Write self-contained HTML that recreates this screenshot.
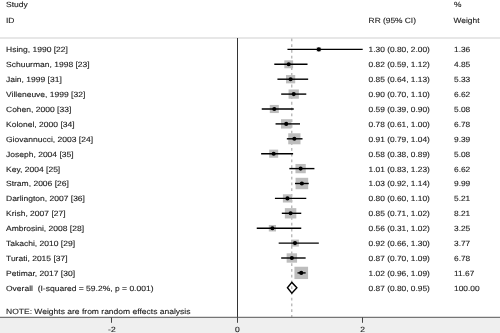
<!DOCTYPE html>
<html><head><meta charset="utf-8"><style>
html,body{margin:0;padding:0;background:#fff;}
svg{display:block;filter:grayscale(1);}
text{font-family:"Liberation Sans",sans-serif;font-size:7.6px;fill:#222;white-space:pre;text-rendering:geometricPrecision;stroke:#222;stroke-width:0.12px;}
</style></head><body>
<svg width="500" height="333" viewBox="0 0 500 333">
<rect width="500" height="333" fill="#fff"/>
<rect x="0" y="317.3" width="500" height="15.699999999999989" fill="#efefef"/>
<line x1="0" x2="500" y1="38" y2="38" stroke="#cfcfcf" stroke-width="1"/>
<line x1="237.5" x2="237.5" y1="38" y2="317.3" stroke="#333" stroke-width="1"/>
<line x1="291.8" x2="291.8" y1="38.5" y2="317.3" stroke="#a5a5a5" stroke-width="1.1" stroke-dasharray="2.8 2.96"/>
<text transform="translate(6.00,7.40) scale(1.12,1)" text-anchor="start">Study</text>
<text transform="translate(6.00,22.80) scale(1.12,1)" text-anchor="start">ID</text>
<text transform="translate(368.60,22.80) scale(1.1,1)" text-anchor="start">RR (95% CI)</text>
<text transform="translate(454.00,7.40) scale(1.1,1)" text-anchor="start">%</text>
<text transform="translate(453.60,22.80) scale(1.1,1)" text-anchor="start">Weight</text>
<rect x="316.48" y="47.30" width="4.66" height="4.20" fill="#bdbdbd"/>
<line x1="287.46" x2="362.70" y1="49.40" y2="49.40" stroke="#000" stroke-width="1.4"/>
<circle cx="318.81" cy="49.40" r="2.05" fill="#000"/>
<text transform="translate(6.00,52.30) scale(1.12,1)" text-anchor="start">Hsing, 1990 [22]</text>
<text transform="translate(368.60,52.30) scale(1.1,1)" text-anchor="start">1.30 (0.80, 2.00)</text>
<text transform="translate(454.00,52.30) scale(1.1,1)" text-anchor="start">1.36</text>
<rect x="284.31" y="60.34" width="8.81" height="7.93" fill="#bdbdbd"/>
<line x1="274.29" x2="307.52" y1="64.30" y2="64.30" stroke="#000" stroke-width="1.4"/>
<circle cx="288.71" cy="64.30" r="2.05" fill="#000"/>
<text transform="translate(6.00,67.20) scale(1.12,1)" text-anchor="start">Schuurman, 1998 [23]</text>
<text transform="translate(368.60,67.20) scale(1.1,1)" text-anchor="start">0.82 (0.59, 1.12)</text>
<text transform="translate(454.00,67.20) scale(1.1,1)" text-anchor="start">4.85</text>
<rect x="285.98" y="75.04" width="9.23" height="8.31" fill="#bdbdbd"/>
<line x1="277.43" x2="308.15" y1="79.20" y2="79.20" stroke="#000" stroke-width="1.4"/>
<circle cx="290.60" cy="79.20" r="2.05" fill="#000"/>
<text transform="translate(6.00,82.10) scale(1.12,1)" text-anchor="start">Jain, 1999 [31]</text>
<text transform="translate(368.60,82.10) scale(1.1,1)" text-anchor="start">0.85 (0.64, 1.13)</text>
<text transform="translate(454.00,82.10) scale(1.1,1)" text-anchor="start">5.33</text>
<rect x="288.58" y="89.47" width="10.29" height="9.26" fill="#bdbdbd"/>
<line x1="281.19" x2="306.27" y1="94.10" y2="94.10" stroke="#000" stroke-width="1.4"/>
<circle cx="293.73" cy="94.10" r="2.05" fill="#000"/>
<text transform="translate(6.00,97.00) scale(1.12,1)" text-anchor="start">Villeneuve, 1999 [32]</text>
<text transform="translate(368.60,97.00) scale(1.1,1)" text-anchor="start">0.90 (0.70, 1.10)</text>
<text transform="translate(454.00,97.00) scale(1.1,1)" text-anchor="start">6.62</text>
<rect x="269.79" y="104.94" width="9.02" height="8.11" fill="#bdbdbd"/>
<line x1="261.75" x2="293.73" y1="109.00" y2="109.00" stroke="#000" stroke-width="1.4"/>
<circle cx="274.29" cy="109.00" r="2.05" fill="#000"/>
<text transform="translate(6.00,111.90) scale(1.12,1)" text-anchor="start">Cohen, 2000 [33]</text>
<text transform="translate(368.60,111.90) scale(1.1,1)" text-anchor="start">0.59 (0.39, 0.90)</text>
<text transform="translate(454.00,111.90) scale(1.1,1)" text-anchor="start">5.08</text>
<rect x="281.00" y="119.21" width="10.42" height="9.37" fill="#bdbdbd"/>
<line x1="275.55" x2="300.00" y1="123.90" y2="123.90" stroke="#000" stroke-width="1.4"/>
<circle cx="286.21" cy="123.90" r="2.05" fill="#000"/>
<text transform="translate(6.00,126.80) scale(1.12,1)" text-anchor="start">Kolonel, 2000 [34]</text>
<text transform="translate(368.60,126.80) scale(1.1,1)" text-anchor="start">0.78 (0.61, 1.00)</text>
<text transform="translate(454.00,126.80) scale(1.1,1)" text-anchor="start">6.78</text>
<rect x="288.23" y="133.28" width="12.26" height="11.03" fill="#bdbdbd"/>
<line x1="286.83" x2="302.51" y1="138.80" y2="138.80" stroke="#000" stroke-width="1.4"/>
<circle cx="294.36" cy="138.80" r="2.05" fill="#000"/>
<text transform="translate(6.00,141.70) scale(1.12,1)" text-anchor="start">Giovannucci, 2003 [24]</text>
<text transform="translate(368.60,141.70) scale(1.1,1)" text-anchor="start">0.91 (0.79, 1.04)</text>
<text transform="translate(454.00,141.70) scale(1.1,1)" text-anchor="start">9.39</text>
<rect x="269.16" y="149.64" width="9.02" height="8.11" fill="#bdbdbd"/>
<line x1="261.13" x2="293.10" y1="153.70" y2="153.70" stroke="#000" stroke-width="1.4"/>
<circle cx="273.67" cy="153.70" r="2.05" fill="#000"/>
<text transform="translate(6.00,156.60) scale(1.12,1)" text-anchor="start">Joseph, 2004 [35]</text>
<text transform="translate(368.60,156.60) scale(1.1,1)" text-anchor="start">0.58 (0.38, 0.89)</text>
<text transform="translate(454.00,156.60) scale(1.1,1)" text-anchor="start">5.08</text>
<rect x="295.48" y="163.97" width="10.29" height="9.26" fill="#bdbdbd"/>
<line x1="289.34" x2="314.42" y1="168.60" y2="168.60" stroke="#000" stroke-width="1.4"/>
<circle cx="300.63" cy="168.60" r="2.05" fill="#000"/>
<text transform="translate(6.00,171.50) scale(1.12,1)" text-anchor="start">Key, 2004 [25]</text>
<text transform="translate(368.60,171.50) scale(1.1,1)" text-anchor="start">1.01 (0.83, 1.23)</text>
<text transform="translate(454.00,171.50) scale(1.1,1)" text-anchor="start">6.62</text>
<rect x="295.56" y="177.81" width="12.64" height="11.38" fill="#bdbdbd"/>
<line x1="294.98" x2="308.78" y1="183.50" y2="183.50" stroke="#000" stroke-width="1.4"/>
<circle cx="301.88" cy="183.50" r="2.05" fill="#000"/>
<text transform="translate(6.00,186.40) scale(1.12,1)" text-anchor="start">Stram, 2006 [26]</text>
<text transform="translate(368.60,186.40) scale(1.1,1)" text-anchor="start">1.03 (0.92, 1.14)</text>
<text transform="translate(454.00,186.40) scale(1.1,1)" text-anchor="start">9.99</text>
<rect x="282.89" y="194.29" width="9.13" height="8.22" fill="#bdbdbd"/>
<line x1="274.92" x2="306.27" y1="198.40" y2="198.40" stroke="#000" stroke-width="1.4"/>
<circle cx="287.46" cy="198.40" r="2.05" fill="#000"/>
<text transform="translate(6.00,201.30) scale(1.12,1)" text-anchor="start">Darlington, 2007 [36]</text>
<text transform="translate(368.60,201.30) scale(1.1,1)" text-anchor="start">0.80 (0.60, 1.10)</text>
<text transform="translate(454.00,201.30) scale(1.1,1)" text-anchor="start">5.21</text>
<rect x="284.86" y="208.14" width="11.46" height="10.32" fill="#bdbdbd"/>
<line x1="281.82" x2="301.25" y1="213.30" y2="213.30" stroke="#000" stroke-width="1.4"/>
<circle cx="290.60" cy="213.30" r="2.05" fill="#000"/>
<text transform="translate(6.00,216.20) scale(1.12,1)" text-anchor="start">Krish, 2007 [27]</text>
<text transform="translate(368.60,216.20) scale(1.1,1)" text-anchor="start">0.85 (0.71, 1.02)</text>
<text transform="translate(454.00,216.20) scale(1.1,1)" text-anchor="start">8.21</text>
<rect x="268.81" y="224.96" width="7.21" height="6.49" fill="#bdbdbd"/>
<line x1="256.74" x2="301.25" y1="228.20" y2="228.20" stroke="#000" stroke-width="1.4"/>
<circle cx="272.41" cy="228.20" r="2.05" fill="#000"/>
<text transform="translate(6.00,231.10) scale(1.12,1)" text-anchor="start">Ambrosini, 2008 [28]</text>
<text transform="translate(368.60,231.10) scale(1.1,1)" text-anchor="start">0.56 (0.31, 1.02)</text>
<text transform="translate(454.00,231.10) scale(1.1,1)" text-anchor="start">3.25</text>
<rect x="291.10" y="239.61" width="7.77" height="6.99" fill="#bdbdbd"/>
<line x1="278.68" x2="318.81" y1="243.10" y2="243.10" stroke="#000" stroke-width="1.4"/>
<circle cx="294.98" cy="243.10" r="2.05" fill="#000"/>
<text transform="translate(6.00,246.00) scale(1.12,1)" text-anchor="start">Takachi, 2010 [29]</text>
<text transform="translate(368.60,246.00) scale(1.1,1)" text-anchor="start">0.92 (0.66, 1.30)</text>
<text transform="translate(454.00,246.00) scale(1.1,1)" text-anchor="start">3.77</text>
<rect x="286.64" y="253.31" width="10.42" height="9.37" fill="#bdbdbd"/>
<line x1="281.19" x2="305.64" y1="258.00" y2="258.00" stroke="#000" stroke-width="1.4"/>
<circle cx="291.85" cy="258.00" r="2.05" fill="#000"/>
<text transform="translate(6.00,260.90) scale(1.12,1)" text-anchor="start">Turati, 2015 [37]</text>
<text transform="translate(368.60,260.90) scale(1.1,1)" text-anchor="start">0.87 (0.70, 1.09)</text>
<text transform="translate(454.00,260.90) scale(1.1,1)" text-anchor="start">6.78</text>
<rect x="294.42" y="266.75" width="13.66" height="12.30" fill="#bdbdbd"/>
<line x1="297.49" x2="305.64" y1="272.90" y2="272.90" stroke="#000" stroke-width="1.4"/>
<circle cx="301.25" cy="272.90" r="2.05" fill="#000"/>
<text transform="translate(6.00,275.80) scale(1.12,1)" text-anchor="start">Petimar, 2017 [30]</text>
<text transform="translate(368.60,275.80) scale(1.1,1)" text-anchor="start">1.02 (0.96, 1.09)</text>
<text transform="translate(454.00,275.80) scale(1.1,1)" text-anchor="start">11.67</text>
<polygon points="287.46,287.80 291.85,282.40 296.87,287.80 291.85,293.20" fill="none" stroke="#000" stroke-width="1.4"/>
<text transform="translate(6.00,290.70) scale(1.12,1)" text-anchor="start">Overall&#160;&#160;(I-squared = 59.2%, p = 0.001)</text>
<text transform="translate(368.60,290.70) scale(1.1,1)" text-anchor="start">0.87 (0.80, 0.95)</text>
<text transform="translate(454.00,290.70) scale(1.1,1)" text-anchor="start">100.00</text>
<text transform="translate(6.00,313.50) scale(1.12,1)" text-anchor="start">NOTE: Weights are from random effects analysis</text>
<line x1="0" x2="500" y1="317.3" y2="317.3" stroke="#555" stroke-width="1"/>
<line x1="111.5" x2="111.5" y1="317.3" y2="322.8" stroke="#444" stroke-width="1"/>
<text transform="translate(111.90,332.20) scale(1.12,1)" text-anchor="middle">-2</text>
<line x1="237.5" x2="237.5" y1="317.3" y2="322.8" stroke="#444" stroke-width="1"/>
<text transform="translate(237.30,332.20) scale(1.12,1)" text-anchor="middle">0</text>
<line x1="362.5" x2="362.5" y1="317.3" y2="322.8" stroke="#444" stroke-width="1"/>
<text transform="translate(362.70,332.20) scale(1.12,1)" text-anchor="middle">2</text>
</svg>
</body></html>
